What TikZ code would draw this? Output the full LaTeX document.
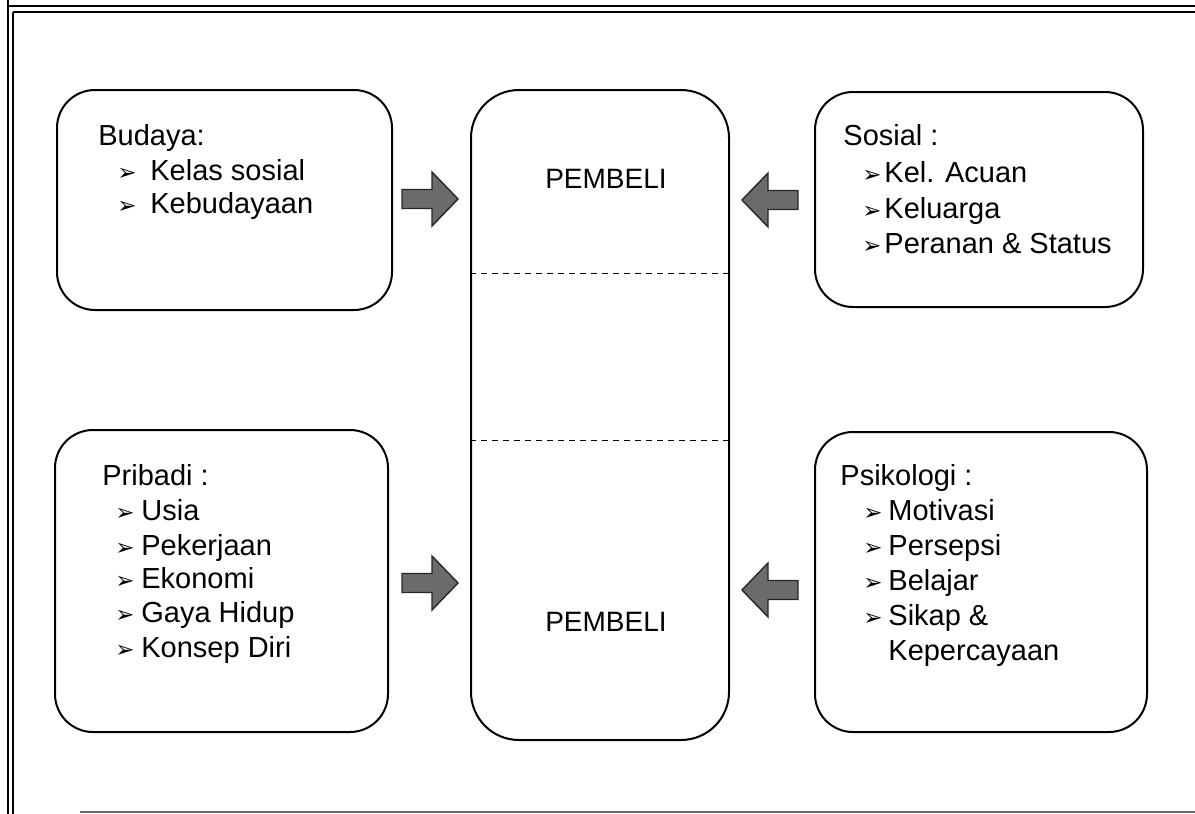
\documentclass[tikz,border=0pt]{standalone}
\usepackage{fontspec}
\setmainfont{Liberation Sans}
\newfontfamily\dingfont{DejaVu Sans}
\begin{document}
\begin{tikzpicture}[x=0.5pt,y=-0.5pt,
  box/.style={draw=black, line width=1pt, rounded corners=19pt, inner sep=0pt},
  label/.style={anchor=base west, inner sep=0pt, font=\fontsize{14.5}{17}\selectfont},
  item/.style={anchor=base west, inner sep=0pt, font=\fontsize{14.5}{17}\selectfont},
  bul/.style={anchor=base west, inner sep=0pt, font=\dingfont\fontsize{11.5}{13}\selectfont},
  title/.style={anchor=base, inner sep=0pt, font=\fontsize{14}{17}\selectfont},
  blockarrow/.style={fill=black!58, draw=black!85, line width=0.7pt, line join=miter},
  sep/.style={dashed, dash pattern=on 3pt off 2.5pt, line width=0.5pt},
  frame/.style={line width=0.9pt}]
\useasboundingbox (0,0) rectangle (1195,814);

% page frame
\draw[frame] (8,0) -- (8,814);
\draw[frame] (13,12) -- (13,814);
\draw[frame] (8,6) -- (1195,6);
\draw[frame] (13,12) -- (1195,12);
\draw[line width=0.6pt, black!60] (80,812) -- (1195,812);

% boxes
\node[box, minimum width=167.5pt, minimum height=110pt] (budaya) at (224.5,200) {};
\node[box, minimum width=164pt, minimum height=107.5pt] (sosial) at (979,199.5) {};
\node[box, minimum width=166.5pt, minimum height=151pt] (pribadi) at (221.5,581) {};
\node[box, minimum width=166pt, minimum height=150pt] (psiko) at (981,582) {};
\node[box, rounded corners=24pt, minimum width=129pt, minimum height=325pt] (pembeli) at (600,415) {};

% dashed divisions of the buyer box
\draw[sep] (pembeli.west |- 0,273) -- (pembeli.east |- 0,273);
\draw[sep] (pembeli.west |- 0,440) -- (pembeli.east |- 0,440);

\node[title] (p1) at (606,188) {PEMBELI};
\node[title] (p2) at (606,631) {PEMBELI};

% Budaya
\node[label] (bt) at (98,145) {Budaya:};
\node[bul] (b1b) at (117,180) {➢};
\node[item] (b1) at (150,180) {Kelas sosial};
\node[bul] (b2b) at (117,213) {➢};
\node[item] (b2) at (150,213) {Kebudayaan};

% Sosial
\node[label] (st) at (843,145) {Sosial :};
\node[bul] (s1b) at (862,182) {➢};
\node[item] (s1) at (884,182) {Kel. Acuan};
\node[bul] (s2b) at (862,218) {➢};
\node[item] (s2) at (884,218) {Keluarga};
\node[bul] (s3b) at (862,253) {➢};
\node[item] (s3) at (884,253) {Peranan \& Status};

% Pribadi
\node[label] (pt) at (102,485) {Pribadi :};
\node[bul] (r1b) at (115,520) {➢};
\node[item] (r1) at (141,520) {Usia};
\node[bul] (r2b) at (115,555) {➢};
\node[item] (r2) at (141,555) {Pekerjaan};
\node[bul] (r3b) at (115,588) {➢};
\node[item] (r3) at (141,588) {Ekonomi};
\node[bul] (r4b) at (115,622) {➢};
\node[item] (r4) at (141,622) {Gaya Hidup};
\node[bul] (r5b) at (115,657) {➢};
\node[item] (r5) at (141,657) {Konsep Diri};

% Psikologi
\node[label] (kt) at (840,485) {Psikologi :};
\node[bul] (k1b) at (863,520) {➢};
\node[item] (k1) at (888,520) {Motivasi};
\node[bul] (k2b) at (863,555) {➢};
\node[item] (k2) at (888,555) {Persepsi};
\node[bul] (k3b) at (863,590) {➢};
\node[item] (k3) at (888,590) {Belajar};
\node[bul] (k4b) at (863,625) {➢};
\node[item] (k4) at (888,625) {Sikap \&};
\node[item] (k5) at (888,660) {Kepercayaan};

% block arrows toward the buyer box
\coordinate (a1) at (458,199);
\coordinate (a2) at (742,200);
\coordinate (a3) at (458,583);
\coordinate (a4) at (742,590);
\foreach \t in {a1,a3}
  \draw[blockarrow] (\t) -- ++(-26,-27) -- ++(0,17.5) -- ++(-30,0) -- ++(0,19)
        -- ++(30,0) -- ++(0,17.5) -- cycle;
\foreach \t in {a2,a4}
  \draw[blockarrow] (\t) -- ++(26,-27) -- ++(0,17.5) -- ++(30,0) -- ++(0,19)
        -- ++(-30,0) -- ++(0,17.5) -- cycle;
\end{tikzpicture}
\end{document}
